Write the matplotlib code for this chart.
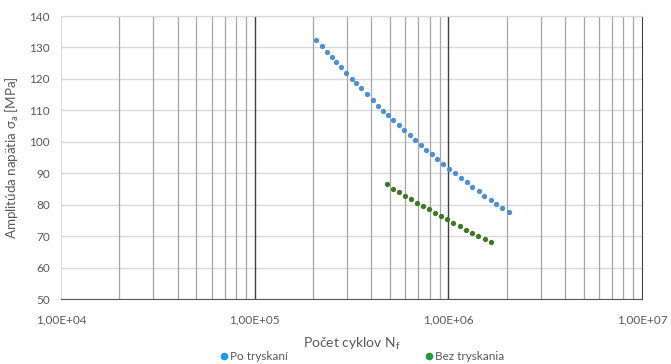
import matplotlib
matplotlib.use('Agg')
import matplotlib.pyplot as plt
from matplotlib.lines import Line2D
from matplotlib.ticker import FixedLocator, FuncFormatter, NullFormatter

plt.rcParams['font.family'] = ['Lato', 'DejaVu Sans']

# Po tryskaní (shot peened)
n_po = [2.08e5, 2.23e5, 2.35e5, 2.50e5, 2.64e5, 2.80e5, 2.97e5, 3.17e5, 3.35e5,
        3.54e5, 3.78e5, 4.06e5, 4.33e5, 4.60e5, 4.88e5, 5.20e5, 5.56e5, 5.92e5,
        6.32e5, 6.73e5, 7.19e5, 7.69e5, 8.23e5, 8.77e5, 9.38e5, 1.007e6, 1.077e6,
        1.156e6, 1.241e6, 1.329e6, 1.431e6, 1.532e6, 1.651e6, 1.767e6, 1.897e6, 2.045e6]
s_po = [132.3, 130.6, 128.7, 126.9, 125.3, 123.7, 121.9, 120.1, 118.6,
        117.0, 115.1, 113.3, 111.5, 109.9, 108.5, 107.0, 105.3, 103.9,
        102.2, 100.6, 99.1, 97.5, 96.1, 94.6, 93.1, 91.4, 90.1,
        88.5, 87.3, 85.7, 84.3, 82.9, 81.6, 80.2, 78.9, 77.6]

# Bez tryskania (as machined)
n_bez = [4.84e5, 5.20e5, 5.58e5, 5.99e5, 6.44e5, 6.89e5, 7.36e5, 7.90e5, 8.49e5,
         9.12e5, 9.84e5, 1.060e6, 1.142e6, 1.232e6, 1.329e6, 1.427e6, 1.545e6, 1.659e6]
s_bez = [86.5, 85.1, 84.0, 82.9, 81.9, 80.7, 79.6, 78.6, 77.4,
         76.5, 75.4, 74.3, 73.2, 72.0, 71.2, 70.0, 69.2, 68.1]

x_major = [1e4, 1e5, 1e6, 1e7]
x_minor = [m * 10 ** e for e in (4, 5, 6) for m in range(2, 10)]
y_ticks = list(range(50, 141, 10))

fig = plt.figure(figsize=(6.71, 3.64), dpi=100)
ax = fig.add_axes([0.091, 0.178, 0.866, 0.778])

ax.set_xscale('log')
ax.set_xlim(1e4, 1e7)
ax.set_ylim(50, 140)

# gridlines
for y in y_ticks:
    ax.axhline(y, color='#d9d9d9', lw=1.0, zorder=0)
for x in x_minor:
    ax.axvline(x, color='#a6a6a6', lw=0.9, zorder=0)
for x in x_major[1:-1]:
    ax.axvline(x, color='#404040', lw=1.0, zorder=0)

ax.plot(n_po, s_po, 'o', color='#4f8fcf', ms=3.8, mew=0, zorder=3)
ax.plot(n_bez, s_bez, 'o', color='#3f7526', ms=3.8, mew=0, zorder=3)

ax.xaxis.set_major_locator(FixedLocator(x_major))
ax.xaxis.set_minor_locator(FixedLocator(x_minor))
ax.xaxis.set_minor_formatter(NullFormatter())
ax.xaxis.set_major_formatter(FuncFormatter(
    lambda v, p: ('%.2E' % v).replace('.', ',')))
ax.set_yticks(y_ticks)
ax.tick_params(axis='both', which='both', length=0, labelsize=8.5,
               colors='#595959')
ax.tick_params(axis='x', pad=11)
ax.tick_params(axis='y', pad=8)

for s in ('left', 'top'):
    ax.spines[s].set_color('#d9d9d9')
ax.spines['bottom'].set_color('#595959')
ax.spines['right'].set_color('#404040')

ax.set_xlabel('Počet cyklov N$_\\mathregular{f}$', fontsize=10, color='#595959',
              labelpad=7)
ax.set_ylabel('Amplitúda napätia σ$_\\mathregular{a}$ [MPa]', fontsize=9.6,
              color='#595959', labelpad=6)

handles = [Line2D([], [], ls='', marker='o', color='#1a9be6', ms=5.5, mew=0),
           Line2D([], [], ls='', marker='o', color='#26993a', ms=5.5, mew=0)]
fig.legend(handles, ['Po tryskaní', 'Bez tryskania'], loc='center',
           bbox_to_anchor=(0.538, 0.02), ncol=2, frameon=False, fontsize=8.5,
           handletextpad=0.05, columnspacing=11.4, labelcolor='#595959',
           borderpad=0, handlelength=1.0)

fig.savefig('out.png', dpi=100)
